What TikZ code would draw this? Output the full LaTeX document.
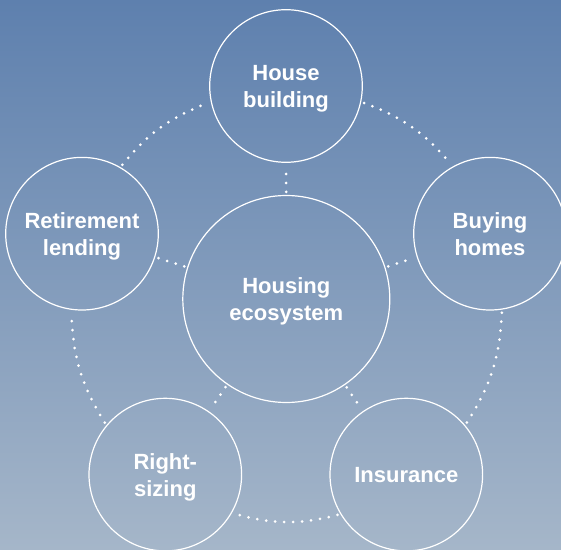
\documentclass[tikz,border=0pt]{standalone}
\usepackage{fontspec}
\setmainfont{Liberation Sans}
\usetikzlibrary{positioning}
\definecolor{skytop}{RGB}{94,128,174}
\definecolor{skymid}{RGB}{124,152,186}
\definecolor{skybottom}{RGB}{165,182,201}
\tikzset{
  hub/.style={
    circle, draw=white, line width=1.2pt, minimum size=207pt, inner sep=0pt,
    text=white, align=center, text depth=0pt,
    font=\bfseries\fontsize{22}{27}\selectfont
  },
  satellite/.style={
    hub, minimum size=152.6pt
  },
  spoke/.style={
    white, line width=3pt, line cap=round, dash pattern=on 0pt off 9pt,
    shorten <=3pt, shorten >=3pt
  },
  ring/.style={
    spoke, bend left=15
  }
}
\begin{document}
\begin{tikzpicture}[x=1pt, y=1pt]
    % Background
    \useasboundingbox (0,0) rectangle (561,549);
    \shade[top color=skytop, middle color=skymid, bottom color=skybottom] (0,0) rectangle (561,549);

    % Circles
    \node[hub] (housing) at (286.3,250) {Housing\\ecosystem};
    \node[satellite] (house) at (286,463) {House\\building};
    \node[satellite] (retire) at (82,315.3) {Retirement\\lending};
    \node[satellite] (buying) at (490,315.3) {Buying\\homes};
    \node[satellite] (rightsize) at (165.3,74.4) {Right-\\sizing};
    \node[satellite] (insure) at (406.3,74.4) {Insurance};

    % Spokes
    \draw[spoke] (housing) -- (house);
    \draw[spoke] (housing) -- (retire);
    \draw[spoke] (housing) -- (buying);
    \draw[spoke] (housing) -- (rightsize);
    \draw[spoke] (housing) -- (insure);

    % Outer ring
    \draw[ring] (retire.60.6) to (house.192.3);
    \draw[ring] (house.-12.3) to (buying.119.4);
    \draw[ring] (buying.-81.4) to (insure.40);
    \draw[ring] (insure.-149.7) to (rightsize.-30.3);
    \draw[ring] (rightsize.140) to (retire.-98.6);

\end{tikzpicture}
\end{document}
